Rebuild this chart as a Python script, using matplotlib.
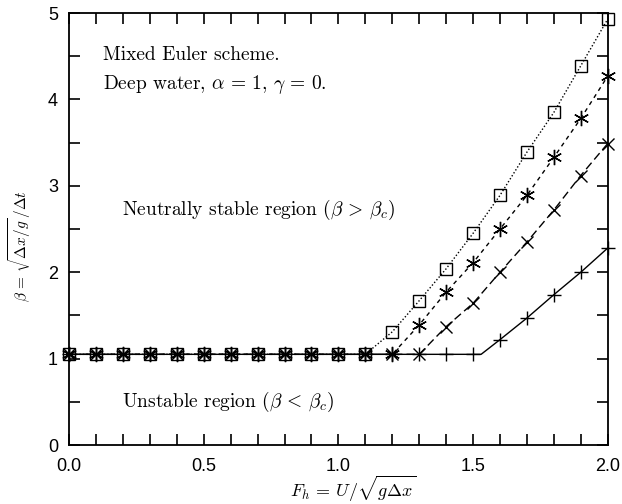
import numpy as np
import matplotlib
matplotlib.use('Agg')
import matplotlib.pyplot as plt

plt.rcParams['mathtext.fontset'] = 'cm'

# F_h values for markers
fh = [0.0, 0.1, 0.2, 0.3, 0.4, 0.5, 0.6, 0.7, 0.8, 0.9, 1.0,
      1.1, 1.2, 1.3, 1.4, 1.5, 1.6, 1.7, 1.8, 1.9, 2.0]

beta_sq = [1.05] * 12 + [1.31, 1.67, 2.04, 2.45, 2.89, 3.39, 3.85, 4.39, 4.93]
beta_st = [1.05] * 13 + [1.39, 1.77, 2.11, 2.50, 2.89, 3.33, 3.78, 4.27]
beta_x = [1.05] * 14 + [1.37, 1.64, 2.00, 2.35, 2.72, 3.12, 3.49]
beta_pl = [1.05] * 16 + [1.22, 1.47, 1.74, 2.00, 2.28]

# solid curve has its kink between markers
pl_line_x = [0.0, 1.53, 1.6, 1.7, 1.8, 1.9, 2.0]
pl_line_y = [1.05, 1.05, 1.22, 1.47, 1.74, 2.00, 2.28]

fig = plt.figure(figsize=(6.22, 5.04), dpi=100)
ax = fig.add_axes([0.111, 0.117, 0.866, 0.857])

ax.plot(fh, beta_sq, color='black', linestyle=(0, (1, 1.5)), lw=1.0,
        marker='s', ms=9, mfc='none', mew=1.0, clip_on=False)
ax.plot(fh, beta_st, color='black', linestyle=(0, (3, 3)), lw=1.0,
        marker=(6, 2, 0), ms=11, mew=1.0, clip_on=False)
ax.plot(fh, beta_x, color='black', linestyle=(0, (6, 3)), lw=1.0,
        marker='x', ms=9, mew=1.0, clip_on=False)
ax.plot(pl_line_x, pl_line_y, color='black', lw=1.0, clip_on=False)
ax.plot(fh, beta_pl, color='black', linestyle='none',
        marker='+', ms=10, mew=1.0, clip_on=False)

ax.set_xlim(0, 2)
ax.set_ylim(0, 5)
ax.set_xticks([0.0, 0.5, 1.0, 1.5, 2.0])
ax.set_xticklabels(['0.0', '0.5', '1.0', '1.5', '2.0'])
ax.set_xticks(np.arange(0, 2.01, 0.1), minor=True)
ax.set_yticks([0, 1, 2, 3, 4, 5])
ax.set_yticks(np.arange(0, 5.01, 0.5), minor=True)
ax.tick_params(which='both', direction='in', top=True, right=True,
               length=8, width=1.2, labelsize=13)
ax.tick_params(axis='x', pad=9)
ax.tick_params(axis='y', pad=8)
for lab in ax.get_xticklabels() + ax.get_yticklabels():
    lab.set_fontfamily('Liberation Sans')
for s in ax.spines.values():
    s.set_linewidth(1.3)

ax.set_xlabel(r'$F_h\,=\,U/\sqrt{g\Delta x}$', fontsize=13)
ax.xaxis.set_label_coords(0.527, -0.067)
ax.set_ylabel(r'$\beta\,=\,\sqrt{\Delta x/g}\,/\Delta t$', fontsize=11)
ax.yaxis.set_label_coords(-0.067, 0.46)

tfont = dict(fontsize=14, family='cmr10')
ax.text(0.125, 4.51, 'Mixed Euler scheme.', va='center', **tfont)
ax.text(0.125, 4.17, r'Deep water, $\alpha\,=\,1$, $\gamma\,=\,0$.', va='center', **tfont)
ax.text(0.197, 2.72, r'Neutrally stable region ($\beta\,>\,\beta_c$)', va='center', **tfont)
ax.text(0.197, 0.5, r'Unstable region ($\beta\,<\,\beta_c$)', va='center', **tfont)

fig.savefig('out.png', dpi=100)
